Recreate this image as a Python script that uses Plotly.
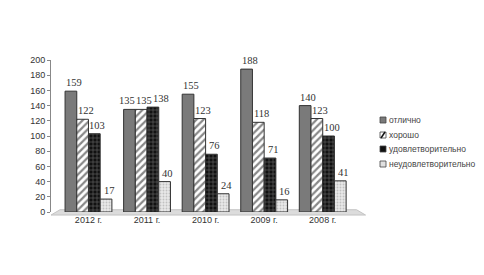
import plotly.graph_objects as go

categories = ["2012 г.", "2011 г.", "2010 г.", "2009 г.", "2008 г."]
series_names = ["отлично", "хорошо", "удовлетворительно", "неудовлетворительно"]
otlichno = [159, 135, 155, 188, 140]
horosho = [122, 135, 123, 118, 123]
udovl = [103, 138, 76, 71, 100]
neudovl = [17, 40, 24, 16, 41]
y_ticks = [0, 20, 40, 60, 80, 100, 120, 140, 160, 180, 200]
series_values = [otlichno, horosho, udovl, neudovl]

W, H = 484, 275
ML, MR, MT, MB = 43, 140, 52, 71
plot_w = W - ML - MR
plot_h = H - MT - MB
X_RANGE = [-0.64, 4.5]
BARGAP = 0.2
LABEL_FONT = 10.5

def px_x(px):
    return (px - ML) / plot_w

def px_y(py):
    return (H - MB - py) / plot_h

styles = [
    dict(color="#7a7a7a", pattern=dict(shape="")),
    dict(color="white", pattern=dict(shape="/", fgcolor="#111", bgcolor="white", size=5, solidity=0.45)),
    dict(color="#111", pattern=dict(shape="+", fgcolor="#cfcfcf", bgcolor="#111", size=4, solidity=0.25)),
    dict(color="#dedede", pattern=dict(shape=".", fgcolor="#9a9a9a", bgcolor="#e8e8e8", size=3, solidity=0.3)),
]

fig = go.Figure()
for name, vals, st in zip(series_names, series_values, styles):
    fig.add_trace(go.Bar(
        name=name, x=categories, y=vals,
        marker=dict(color=st["color"], pattern=st["pattern"],
                    line=dict(color="#333", width=1)),
        showlegend=False,
    ))

# data labels, spread apart when they would collide (as in the original)
px_per_cat = plot_w / (X_RANGE[1] - X_RANGE[0])
step = px_per_cat * (1 - BARGAP) / len(series_values)
px_per_unit = plot_h / 200.0
annotations = []
for ci, cat in enumerate(categories):
    vals = [s[ci] for s in series_values]
    offs = [(i - 1.5) * step + 3 for i in range(len(vals))]
    widths = [len(str(v)) * LABEL_FONT * 0.5 + 1 for v in vals]
    for _ in range(30):
        moved = False
        for i in range(len(vals) - 1):
            j = i + 1
            if abs(vals[i] - vals[j]) * px_per_unit < LABEL_FONT * 1.1:
                need = (widths[i] + widths[j]) / 2 - (offs[j] - offs[i])
                if need > 0.1:
                    offs[i] -= need / 2
                    offs[j] += need / 2
                    moved = True
        if not moved:
            break
    for v, o in zip(vals, offs):
        annotations.append(dict(
            x=cat, y=v, xref="x", yref="y", text=str(v), showarrow=False,
            xshift=o, yanchor="bottom", yshift=1,
            font=dict(family="Liberation Serif", size=LABEL_FONT, color="#333"),
        ))

# manual compact legend
legend_y = [112, 127, 141, 156]
legend_fill = ["#7a7a7a", "white", "#111", "#e0e0e0"]
shapes = []
for name, py, fill in zip(series_names, legend_y, legend_fill):
    shapes.append(dict(type="rect", xref="paper", yref="paper",
                       x0=px_x(372), x1=px_x(378), y0=px_y(py + 3), y1=px_y(py - 3),
                       fillcolor=fill, line=dict(color="#444", width=0.8)))
    annotations.append(dict(x=px_x(381), y=px_y(py), xref="paper", yref="paper",
                            text=name, showarrow=False, xanchor="left", yanchor="middle",
                            xshift=-2,
                            font=dict(family="Liberation Sans", size=8.5, color="#444")))
# hatch mark in legend symbol 2
shapes.append(dict(type="line", xref="paper", yref="paper",
                   x0=px_x(373), y0=px_y(130), x1=px_x(377), y1=px_y(124),
                   line=dict(color="#111", width=1.5)))

# floor decoration
shapes.append(dict(type="path", xref="paper", yref="paper",
                   path="M 0.0,-0.02 L 1.045,-0.02 L 1.015,0.015 L 0.03,0.015 Z",
                   fillcolor="#dcdcdc", line=dict(color="#c4c4c4", width=1), layer="below"))

fig.update_layout(
    width=W, height=H,
    margin=dict(l=ML, r=MR, t=MT, b=MB),
    paper_bgcolor="white", plot_bgcolor="white",
    barmode="group", bargap=BARGAP, bargroupgap=0.0,
    font=dict(family="Liberation Sans", size=9, color="#333"),
    xaxis=dict(range=X_RANGE, showline=False, ticks="", showgrid=False,
               tickfont=dict(size=9), ticklabelstandoff=1),
    yaxis=dict(range=[0, 200], tickvals=y_ticks, showline=True, linecolor="#888",
               ticks="outside", ticklen=3, tickcolor="#888", showgrid=False,
               tickfont=dict(size=9), zeroline=False),
    annotations=annotations,
    shapes=shapes,
    showlegend=False,
)

fig.write_html("out.html")
